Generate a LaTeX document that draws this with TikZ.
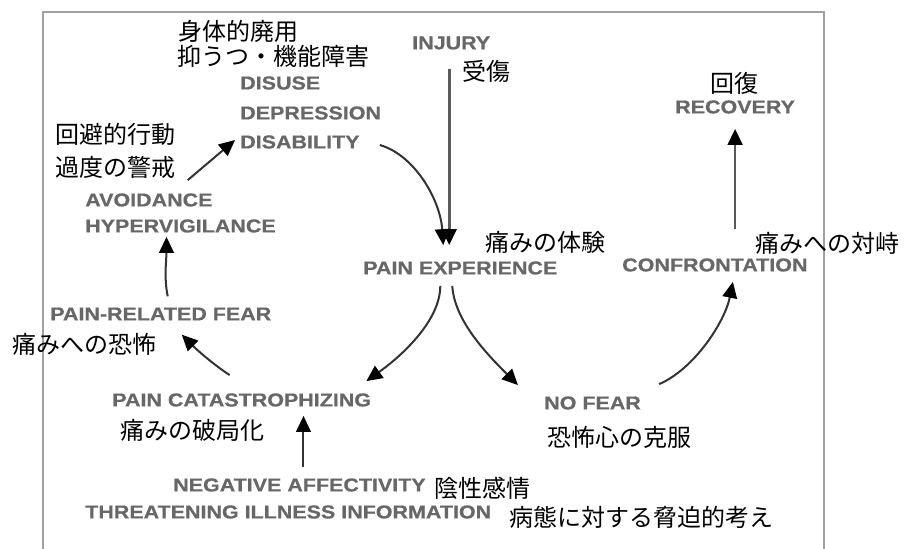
\documentclass[tikz,border=0pt]{standalone}
\usepackage{fontspec}
\usetikzlibrary{arrows.meta,calc}
\newfontfamily\enf{Liberation Sans}[FakeStretch=1.15,FakeBold=0.6]
\newfontfamily\jpf{Noto Sans CJK JP}
\definecolor{engray}{HTML}{676767}
\definecolor{linegray}{HTML}{333333}
\definecolor{stemgray}{HTML}{5A5A5A}
\definecolor{framegray}{HTML}{A0A0A0}
\begin{document}
\begin{tikzpicture}[x=0.75pt,y=-0.75pt,
  en/.style={font=\enf\bfseries\fontsize{14pt}{16pt}\selectfont, text=engray, inner sep=0pt, anchor=west},
  jp/.style={font=\jpf\fontsize{18pt}{20pt}\selectfont, text=black, inner sep=0pt, anchor=west},
  arr/.style={draw=linegray, line width=1.5pt, -{Triangle[length=12pt,width=11pt,color=black]}},
  arrg/.style={draw=stemgray, line width=1.9pt, -{Triangle[length=12pt,width=11pt,color=black]}}]
\useasboundingbox (0,0) rectangle (904,549);
% frame
\draw[framegray, line width=1.5pt] (43,549) -- (43,12) -- (824,12) -- (824,549);
% nodes
\node[en] (injury) at (412,43) {INJURY};
\node[jp] (jinjury) at (462,71) {受傷};
\node[en] (painexp) at (363,268) {PAIN EXPERIENCE};
\node[jp] (jpainexp) at (485,242) {痛みの体験};
\node[jp] (jdisuse1) at (178,31) {身体的廃用};
\node[jp] (jdisuse2) at (177,56) {抑うつ・機能障害};
\node[en] (disuse) at (240,83) {DISUSE};
\node[en] (depression) at (240,113) {DEPRESSION};
\node[en] (disability) at (240,142) {DISABILITY};
\node[jp] (javoid1) at (55,134) {回避的行動};
\node[jp] (javoid2) at (55,167) {過度の警戒};
\node[en] (avoidance) at (85,200) {AVOIDANCE};
\node[en] (hyper) at (85,226) {HYPERVIGILANCE};
\node[en] (painfear) at (50,314) {PAIN-RELATED FEAR};
\node[jp] (jpainfear) at (12,344) {痛みへの恐怖};
\node[en] (catas) at (112,400) {PAIN CATASTROPHIZING};
\node[jp] (jcatas) at (120,430) {痛みの破局化};
\node[en] (negaff) at (173,485) {NEGATIVE AFFECTIVITY};
\node[jp] (jnegaff) at (434,488) {陰性感情};
\node[en] (threat) at (85,512) {THREATENING ILLNESS INFORMATION};
\node[jp] (jthreat) at (509,517) {病態に対する脅迫的考え};
\node[en] (nofear) at (544,403) {NO FEAR};
\node[jp] (jnofear) at (547,437) {恐怖心の克服};
\node[en] (confront) at (622,265) {CONFRONTATION};
\node[jp] (jconfront) at (755,243) {痛みへの対峙};
\node[en] (recovery) at (675,107) {RECOVERY};
\node[jp] (jrecovery) at (710,83) {回復};
% connectors
\draw[arrg] ($(injury.south)+(-2,19)$) -- ($(painexp.north -| injury.south)+(-2,-16)$);
\draw[arr] ($(disability.east)+(20,3)$) .. controls +(35,10) and +(-3,-45) .. ($(painexp.north)+(-17,-16)$);
\draw[arr] ($(painexp.south)+(-20,11)$) .. controls +(0,35) and +(35,-25) .. ($(catas.north east)+(-5,-12)$);
\draw[arr] ($(painexp.south)+(-8,11)$) .. controls +(2,35) and +(-30,-30) .. ($(nofear.north west)+(-26,-11)$);
\draw[arr] ($(nofear.north east)+(18,-12)$) .. controls +(35,-15) and +(-8,40) .. ($(confront.south)+(18,10)$);
\draw[arrg] ($(confront.north -| recovery.south)+(0,-29)$) -- ($(recovery.south)+(0,15)$);
\draw[arr] ($(catas.north)+(-12,-18)$) .. controls +(-18,-12) and +(15,15) .. ($(painfear.south)+(21,14)$);
\draw[arr] ($(painfear.north)+(7,-11)$) .. controls +(-4,-18) and +(0,22) .. ($(hyper.south)+(-14,4)$);
\draw[arr] ($(avoidance.north east)+(-25,-13)$) -- ($(disability.west)+(-5,-2)$);
\draw[arr] ($(negaff.north)+(4,-11)$) -- ($(catas.south -| negaff.north)+(4,9)$);
\end{tikzpicture}
\end{document}
